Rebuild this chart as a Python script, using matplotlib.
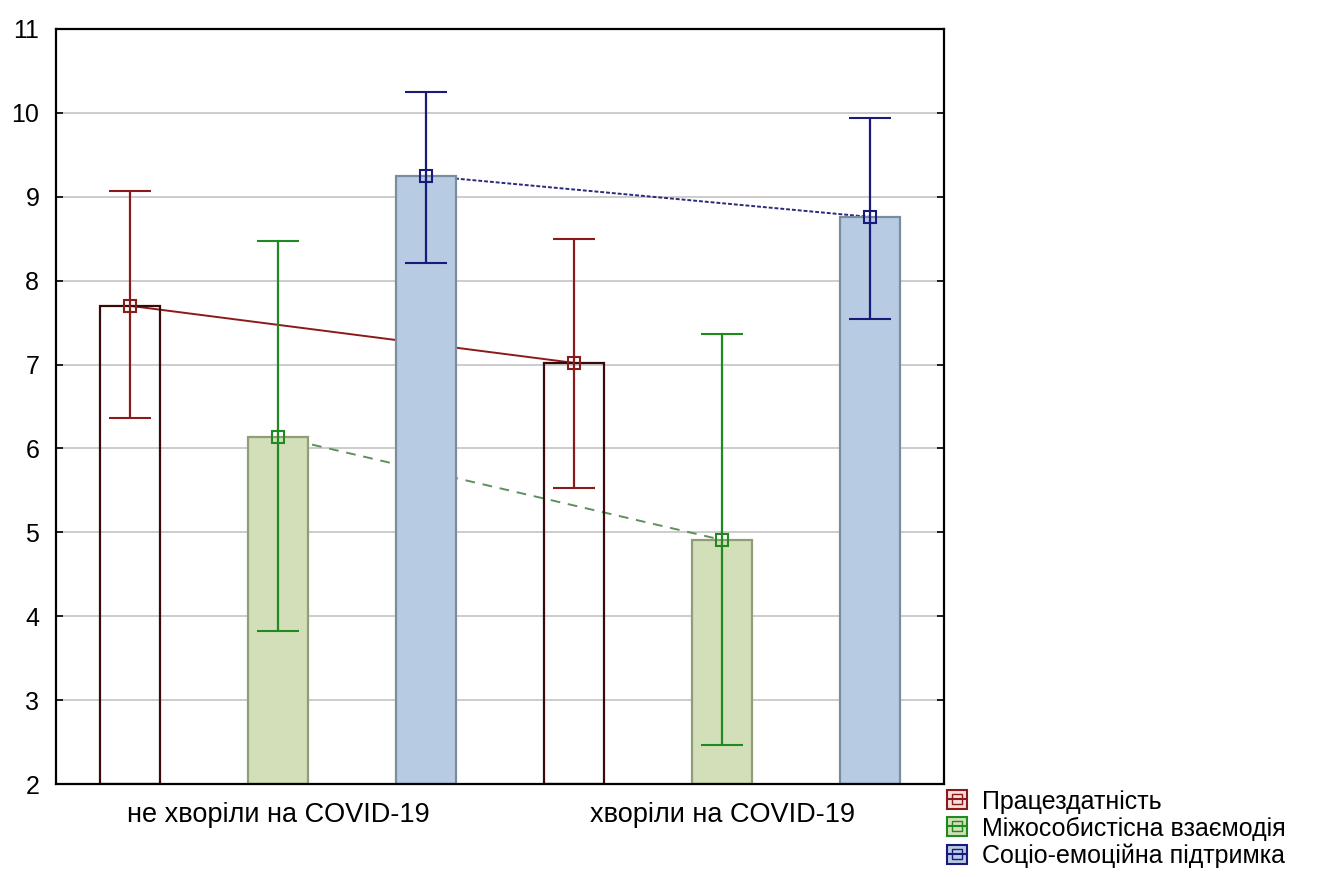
import matplotlib
matplotlib.use("Agg")
import matplotlib.pyplot as plt
from matplotlib.patches import Patch
from matplotlib.lines import Line2D
from matplotlib.legend_handler import HandlerTuple

plt.rcParams['font.family'] = ['Liberation Sans', 'DejaVu Sans']

groups = ["не хворіли на COVID-19", "хворіли на COVID-19"]
series = ["Працездатність", "Міжособистісна взаємодія", "Соціо-емоційна підтримка"]
means = [[7.70, 7.02], [6.14, 4.91], [9.25, 8.76]]
upper = [[9.07, 8.50], [8.47, 7.36], [10.25, 9.94]]
lower = [[6.36, 5.53], [3.82, 2.46], [8.21, 7.54]]
yticks = [2, 3, 4, 5, 6, 7, 8, 9, 10, 11]

err_colors = ["#8b1a1a", "#1f8a1f", "#1a1a7a"]
bar_faces = ["none", "#d3dfb9", "#b7cbe3"]
bar_edges = ["#3a0a0a", "#8f9e78", "#7b8c9e"]
line_styles = ["-", (0, (5, 4)), (0, (2, 1))]
line_draw_colors = ["#8b1a1a", "#5f8f5f", "#2a2a7a"]

fig = plt.figure(figsize=(13.31, 8.77), dpi=100)
ax = fig.add_axes([56/1331, 1-784/877, (944-56)/1331, (784-29)/877])

n_s = len(series)
width = 0.41
for si in range(n_s):
    xs = [gi * n_s + si + 0.5 for gi in range(len(groups))]
    ax.bar(xs, [m - 2 for m in means[si]], bottom=2, width=width,
           facecolor=bar_faces[si], edgecolor=bar_edges[si], linewidth=1.6, zorder=2)
    ax.plot(xs, means[si], linestyle=line_styles[si], color=line_draw_colors[si],
            linewidth=1.4, zorder=1)
    yerr = [[m - l for m, l in zip(means[si], lower[si])],
            [u - m for m, u in zip(means[si], upper[si])]]
    ax.errorbar(xs, means[si], yerr=yerr, fmt='s', color=err_colors[si],
                mfc='none', mec=err_colors[si], ms=9, mew=1.5,
                elinewidth=1.6, capsize=15, capthick=1.6, zorder=3)

ax.set_xlim(0, 6)
ax.set_ylim(2, 11)
ax.set_yticks(yticks)
ax.set_xticks([1.5, 4.5])
ax.set_xticklabels(groups)
ax.tick_params(axis='both', direction='in', length=5, width=1.2)
ax.tick_params(axis='y', right=True, pad=12, labelsize=18)
ax.tick_params(axis='x', pad=13, labelsize=19.5)
ax.yaxis.grid(True, color="#c8c8c8", linewidth=1.3, zorder=0)
ax.set_axisbelow(True)
for sp in ax.spines.values():
    sp.set_linewidth(1.6)
    sp.set_color("#000000")

handles = []
for si in range(n_s):
    p = Patch(facecolor=bar_faces[si] if bar_faces[si] != "none" else "#f4dede",
              edgecolor=err_colors[si], linewidth=1.5)
    l = Line2D([], [], marker='s', mfc='none', mec=err_colors[si], ms=7,
               color=err_colors[si], linewidth=1.5)
    handles.append((p, l))
fig.legend(handles, series, loc='upper left', bbox_to_anchor=(944/1331, 1-787/877),
           frameon=False, fontsize=18, handlelength=0.8, handleheight=0.8,
           handletextpad=0.6, labelspacing=0.12, borderaxespad=0, borderpad=0.1,
           handler_map={tuple: HandlerTuple(ndivide=1)})

fig.savefig("out.png", dpi=100)
